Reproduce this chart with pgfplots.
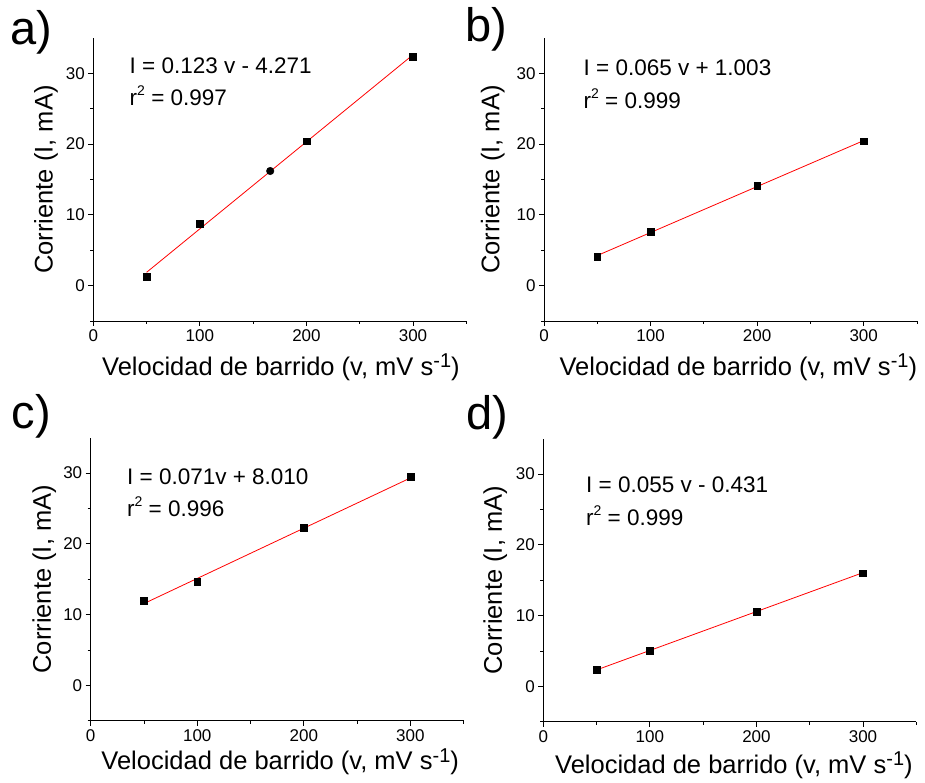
\documentclass[border=0pt]{standalone}
\usepackage{pgfplots}
\pgfplotsset{compat=1.18}
\usepackage{fontspec}
\setmainfont{Liberation Sans}

\definecolor{fitred}{RGB}{255,0,0}

\newcommand{\sprs}[3]{\raisebox{#2}{\fontsize{#1}{#1}\selectfont #3}}

\pgfplotsset{
  panel/.style={
    scale only axis, width=373pt, height=283pt,
    xmin=0, xmax=350, ymin=-5, ymax=35,
    axis x line=bottom, axis y line=left,
    axis line style={-, line width=0.9pt},
    xtick={0,100,200,300}, minor xtick={50,150,250,350},
    ytick={0,10,20,30}, minor ytick={-5,5,15,25},
    tick align=outside, major tick length=5pt, minor tick length=3pt,
    every tick/.style={black, line width=0.9pt},
    every minor tick/.style={black, line width=0.9pt},
    /pgf/number format/assume math mode=true,
    tick label style={font=\fontsize{17}{17}\selectfont},
    xlabel={Velocidad de barrido (v, mV s\sprs{20}{7.5pt}{-1})},
    ylabel={Corriente (I, mA)},
    label style={font=\fontsize{25.5}{25.5}\selectfont},
    clip=false,
  },
  pts/.style={only marks, mark=square*, mark size=3.4pt, black},
  fit/.style={fitred, line width=0.8pt, no marks},
}
\tikzset{
  eq/.style={anchor=base west, inner sep=0pt, font=\fontsize{22.5}{22.5}\selectfont},
  tag/.style={anchor=base west, inner sep=0pt, font=\fontsize{47}{47}\selectfont},
}

\begin{document}
\begin{tikzpicture}
\useasboundingbox (0pt,0pt) rectangle (925pt,782pt);

% ---- a) ----
\begin{axis}[panel, at={(93.3pt,461pt)}, anchor=south west,
  xlabel style={at={(axis description cs:0.503,-0.191)}, anchor=base},
  ylabel style={at={(axis description cs:-0.109,0.5)}, anchor=base}]
  \addplot[pts] table {
    x y
    50 1.3
    100 8.8
    200 20.4
    300 32.4
  };
  \addplot[only marks, mark=*, mark size=3.8pt, black] table {
    x y
    166 16.2
  };
  \addplot[fit] table {
    x y
    50 1.879
    300 32.629
  };
  \node[eq] at (axis cs:34,30.0) {I = 0.123 v - 4.271};
  \node[eq] at (axis cs:34,25.4) {r\sprs{14}{10pt}{2} = 0.997};
\end{axis}

% ---- b) ----
\begin{axis}[panel, at={(544pt,461pt)}, anchor=south west,
  xlabel style={at={(axis description cs:0.521,-0.191)}, anchor=base},
  ylabel style={at={(axis description cs:-0.12,0.5)}, anchor=base}]
  \addplot[pts] table {
    x y
    50 4.1
    100 7.6
    200 14.1
    300 20.4
  };
  \addplot[fit] table {
    x y
    50 4.253
    300 20.503
  };
  \node[eq] at (axis cs:37,29.7) {I = 0.065 v + 1.003};
  \node[eq] at (axis cs:37,25.1) {r\sprs{14}{10pt}{2} = 0.999};
\end{axis}

% ---- c) ----
\begin{axis}[panel, at={(90.7pt,61.3pt)}, anchor=south west,
  xlabel style={at={(axis description cs:0.508,-0.174)}, anchor=base},
  ylabel style={at={(axis description cs:-0.107,0.5)}, anchor=base}]
  \addplot[pts] table {
    x y
    50 12.0
    100 14.6
    200 22.3
    300 29.5
  };
  \addplot[fit] table {
    x y
    50 11.56
    300 29.31
  };
  \node[eq] at (axis cs:34,28.4) {I = 0.071v + 8.010};
  \node[eq] at (axis cs:34,23.9) {r\sprs{14}{10pt}{2} = 0.996};
\end{axis}

% ---- d) ----
\begin{axis}[panel, at={(543.3pt,60.3pt)}, anchor=south west,
  xlabel style={at={(axis description cs:0.511,-0.183)}, anchor=base},
  ylabel style={at={(axis description cs:-0.111,0.5)}, anchor=base}]
  \addplot[pts] table {
    x y
    50 2.35
    100 5.0
    200 10.5
    300 16.0
  };
  \addplot[fit] table {
    x y
    50 2.319
    300 16.069
  };
  \node[eq] at (axis cs:40,27.4) {I = 0.055 v - 0.431};
  \node[eq] at (axis cs:40,22.8) {r\sprs{14}{10pt}{2} = 0.999};
\end{axis}

% panel tags
\node[tag] at (10pt,737pt) {a)};
\node[tag] at (465pt,740.3pt) {b)};
\node[tag] at (11.5pt,353.7pt) {c)};
\node[tag] at (466.5pt,352pt) {d)};
\end{tikzpicture}
\end{document}
